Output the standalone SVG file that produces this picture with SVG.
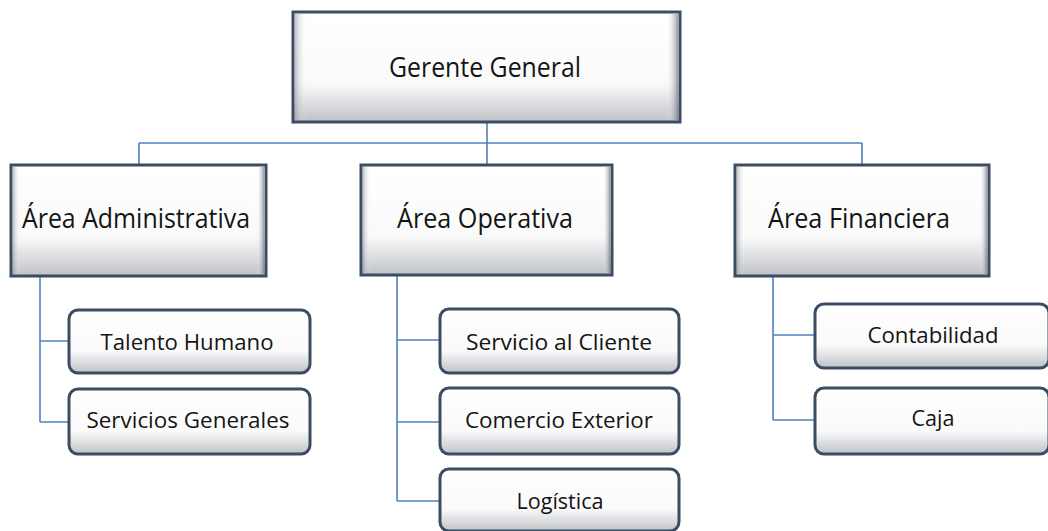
<svg xmlns="http://www.w3.org/2000/svg" width="1048" height="531" viewBox="0 0 1048 531">
<defs>
<linearGradient id="gv" x1="0" y1="0" x2="0" y2="1">
<stop offset="0" stop-color="#ffffff"/>
<stop offset="0.65" stop-color="#fafafa"/>
<stop offset="1" stop-color="#bfc2c7"/>
</linearGradient>
<linearGradient id="gh" x1="0" y1="0" x2="1" y2="0">
<stop offset="0" stop-color="#8a9099" stop-opacity="0.55"/>
<stop offset="0.03" stop-color="#ffffff" stop-opacity="0"/>
<stop offset="0.97" stop-color="#ffffff" stop-opacity="0"/>
<stop offset="1" stop-color="#6a707a" stop-opacity="0.7"/>
</linearGradient>
</defs>
<style>
.box{fill:url(#gv);stroke:#3b4c63;stroke-width:3}
.shade{fill:url(#gh);stroke:none}
.conn{fill:none;stroke:#4f81bd;stroke-width:1.6}
text{font-family:"Open Sans","Liberation Sans",sans-serif;fill:#141414;text-anchor:middle}
.t1{font-size:28px}
.t2{font-size:22px}
</style>
<g id="connectors">
<path class="conn" d="M487 122V143M139 143H862M139 143V165M487 143V165M862 143V165"/>
<path class="conn" d="M40 276V422M40 341H69M40 422H69"/>
<path class="conn" d="M397 276V501M397 340H440M397 422H440M397 501H440"/>
<path class="conn" d="M773 276V420M773 335H815M773 420H815"/>
</g>
<g id="gerente">
<rect class="box" x="293" y="12" width="387" height="110"/>
<rect class="shade" x="295" y="14" width="383" height="106"/>
<text class="t1" x="485" y="77" textLength="192" lengthAdjust="spacingAndGlyphs">Gerente General</text>
</g>
<g id="administrativa">
<rect class="box" x="11" y="165" width="255" height="111"/>
<rect class="shade" x="13" y="167" width="251" height="107"/>
<text class="t1" x="136" y="228" textLength="228" lengthAdjust="spacingAndGlyphs">Área Administrativa</text>
</g>
<g id="operativa">
<rect class="box" x="361" y="165" width="251" height="110"/>
<rect class="shade" x="363" y="167" width="247" height="106"/>
<text class="t1" x="485" y="228" textLength="176" lengthAdjust="spacingAndGlyphs">Área Operativa</text>
</g>
<g id="financiera">
<rect class="box" x="735" y="165" width="254" height="111"/>
<rect class="shade" x="737" y="167" width="250" height="107"/>
<text class="t1" x="859" y="228" textLength="182" lengthAdjust="spacingAndGlyphs">Área Financiera</text>
</g>
<g id="talento">
<rect class="box" x="69" y="310" width="241" height="63" rx="9"/>
<text class="t2" x="187" y="350" textLength="173" lengthAdjust="spacingAndGlyphs">Talento Humano</text>
</g>
<g id="servicios">
<rect class="box" x="69" y="389" width="241" height="65" rx="9"/>
<text class="t2" x="188" y="428" textLength="203" lengthAdjust="spacingAndGlyphs">Servicios Generales</text>
</g>
<g id="cliente">
<rect class="box" x="440" y="309" width="239" height="64" rx="9"/>
<text class="t2" x="559" y="350" textLength="186" lengthAdjust="spacingAndGlyphs">Servicio al Cliente</text>
</g>
<g id="comercio">
<rect class="box" x="440" y="388" width="239" height="66" rx="9"/>
<text class="t2" x="559" y="428" textLength="188" lengthAdjust="spacingAndGlyphs">Comercio Exterior</text>
</g>
<g id="logistica">
<rect class="box" x="440" y="469" width="239" height="62" rx="9"/>
<text class="t2" x="560" y="509" textLength="87" lengthAdjust="spacingAndGlyphs">Logística</text>
</g>
<g id="contabilidad">
<rect class="box" x="815" y="304" width="234" height="64" rx="9"/>
<text class="t2" x="933" y="343" textLength="131" lengthAdjust="spacingAndGlyphs">Contabilidad</text>
</g>
<g id="caja">
<rect class="box" x="815" y="388" width="234" height="66" rx="9"/>
<text class="t2" x="933" y="426" textLength="43" lengthAdjust="spacingAndGlyphs">Caja</text>
</g>
</svg>
